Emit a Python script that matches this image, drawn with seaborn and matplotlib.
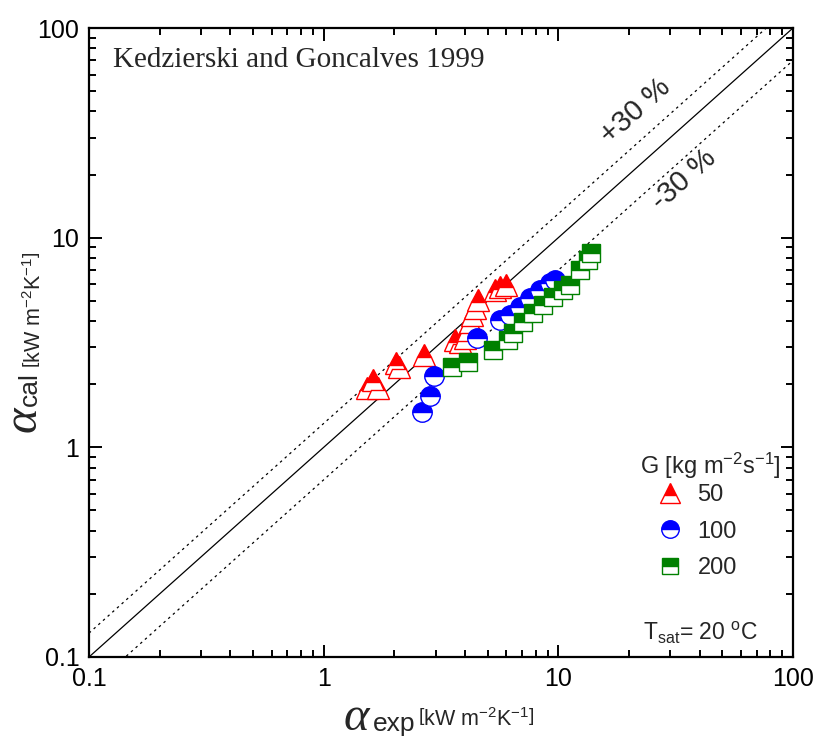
import numpy as np
import pandas as pd
import matplotlib
matplotlib.use("Agg")
import matplotlib.pyplot as plt
from matplotlib.lines import Line2D
from matplotlib.ticker import FixedLocator, LogLocator, NullFormatter
import seaborn as sns

# ---- data ----
g50_exp = [1.53, 1.62, 1.70, 2.03, 2.09, 2.68, 3.63, 3.81, 4.00, 4.12, 4.20, 4.29, 4.41, 4.55, 5.37, 5.64, 5.98]
g50_cal = [1.92, 2.09, 1.92, 2.52, 2.42, 2.75, 3.25, 3.18, 3.32, 3.63, 3.96, 4.28, 4.62, 5.04, 5.62, 5.81, 5.94]

g100_exp = [2.62, 2.84, 2.95, 4.50, 5.64, 6.22, 6.86, 7.57, 8.35, 9.21, 9.67]
g100_cal = [1.47, 1.76, 2.19, 3.32, 4.05, 4.28, 4.67, 5.15, 5.62, 6.07, 6.28]

g200_exp = [3.52, 4.12, 5.26, 6.10, 6.41, 7.06, 7.80, 8.60, 9.48, 10.46, 11.2, 12.36, 13.37, 13.77]
g200_cal = [2.42, 2.55, 2.91, 3.25, 3.51, 3.96, 4.37, 4.77, 5.21, 5.62, 5.94, 7.01, 7.82, 8.45]

groups = ["50", "100", "200"]
tick_vals = [0.1, 1, 10, 100]
tick_labels = ["0.1", "1", "10", "100"]

sns.set_theme(style="white")
plt.rcParams["font.family"] = ["Liberation Sans", "DejaVu Sans"]
plt.rcParams["mathtext.fontset"] = "custom"
plt.rcParams["mathtext.rm"] = "Liberation Sans"
plt.rcParams["mathtext.it"] = "Liberation Sans:italic"

W, H = 814, 742
fig = plt.figure(figsize=(W / 100, H / 100), dpi=100)
ax = fig.add_axes([89 / W, 1 - 657 / H, 704 / W, 629 / H])
ax.set_xscale("log")
ax.set_yscale("log")
ax.set_xlim(0.1, 100)
ax.set_ylim(0.1, 100)

# reference lines
ref = np.array([0.1, 100])
ax.plot(ref, ref, color="black", lw=0.9)
ax.plot(ref, ref * 1.3, color="black", lw=0.9, ls=(0, (2, 3)))
ax.plot(ref, ref * 0.7, color="black", lw=0.9, ls=(0, (2, 3)))

styles = [
    ("50", g50_exp, g50_cal, "^", "#ff0000", 16),
    ("100", g100_exp, g100_cal, "o", "#0000ff", 14),
    ("200", g200_exp, g200_cal, "s", "#008000", 12.5),
]
handles = []
for name, xe, yc, mk, col, ms in styles:
    df = pd.DataFrame({"exp": xe, "cal": yc})
    sns.lineplot(data=df, x="exp", y="cal", ax=ax, estimator=None, sort=False,
                 linestyle="", marker=mk, markersize=ms, color=col,
                 markerfacecolor=col, markerfacecoloralt="white",
                 fillstyle="top", markeredgecolor=col, markeredgewidth=1.0)
    handles.append(Line2D([], [], linestyle="", marker=mk, markersize=ms * 0.9,
                          color=col, markerfacecolor=col,
                          markerfacecoloralt="white", fillstyle="top",
                          markeredgecolor=col, markeredgewidth=1.0))

# ticks
for axis in (ax.xaxis, ax.yaxis):
    axis.set_major_locator(FixedLocator(tick_vals))
    axis.set_minor_locator(LogLocator(base=10, subs=np.arange(2, 10)))
    axis.set_minor_formatter(NullFormatter())
ax.set_xticks(tick_vals)
ax.set_xticklabels(tick_labels)
ax.set_yticks(tick_vals)
ax.set_yticklabels(tick_labels)
ax.tick_params(which="both", direction="in", top=True, right=True,
               bottom=True, left=True, colors="black", width=1.4)
ax.tick_params(which="major", length=9, labelsize=18, pad=7)
ax.tick_params(which="minor", length=5)
for sp in ax.spines.values():
    sp.set_color("black")
    sp.set_linewidth(1.6)
ax.set_xlabel("")
ax.set_ylabel("")

# legend
fig.text(640 / W, 1 - 466 / H, "G [kg m$^{-2}$s$^{-1}$]", fontsize=17,
         ha="left", va="center")
leg = ax.legend(handles, groups, loc="upper left",
                bbox_to_anchor=(655 / W, 1 - 484 / H),
                bbox_transform=fig.transFigure,
                frameon=False, fontsize=17, handletextpad=0.5,
                labelspacing=0.62, handlelength=1.3, borderpad=0,
                borderaxespad=0)

# annotations
fig.text(113 / W, 1 - 60 / H, "Kedzierski and Goncalves 1999",
         family="Liberation Serif", fontsize=21, va="center", ha="left")
fig.text(636 / W, 1 - 111 / H, "+30 %", rotation=42, fontsize=21,
         ha="center", va="center")
fig.text(684 / W, 1 - 180 / H, "-30 %", rotation=42, fontsize=21,
         ha="center", va="center")
fig.text(701 / W, 1 - 633 / H, r"T$_{\mathrm{sat}}$= 20 $^{\mathrm{o}}$C",
         fontsize=16.5, ha="center", va="center")

unit = r"$\left[\mathrm{kW\ m^{-2}K^{-1}}\right]$"

# x label pieces
fig.text(344 / W, 1 - 730 / H, "α", family="Liberation Serif",
         style="italic", fontsize=35, ha="left", va="baseline")
fig.text(373 / W, 1 - 731 / H, "exp", fontsize=19, ha="left", va="baseline")
fig.text(418 / W, 1 - 726 / H, unit, fontsize=15.5, ha="left", va="baseline")

# y label pieces
fig.text(36 / W, 1 - 432 / H, "α", family="Liberation Serif",
         style="italic", fontsize=35, ha="left", va="baseline", rotation=90,
         rotation_mode="anchor")
fig.text(37 / W, 1 - 406 / H, "cal", fontsize=19, ha="left", va="baseline",
         rotation=90, rotation_mode="anchor")
fig.text(41 / W, 1 - 368 / H, unit, fontsize=15.5, ha="left", va="baseline",
         rotation=90, rotation_mode="anchor")

fig.savefig("out.png", dpi=100)
